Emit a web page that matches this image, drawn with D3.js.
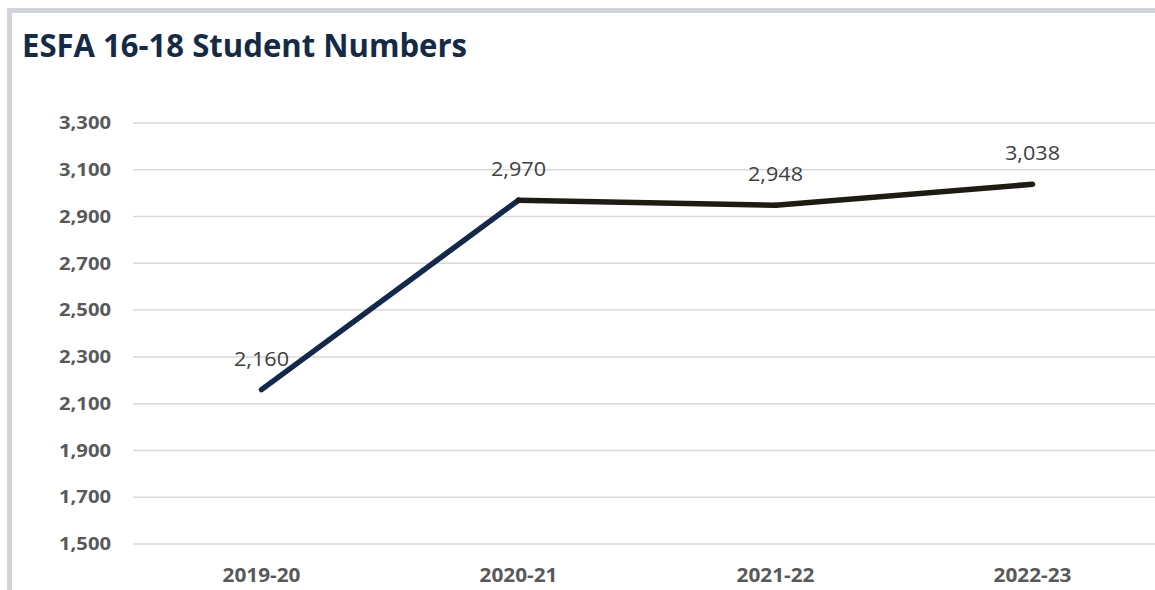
<!DOCTYPE html>
<html><head><meta charset="utf-8">
<script src="https://cdn.jsdelivr.net/npm/d3@7/dist/d3.min.js"></script>
<style>body{margin:0;background:#fff;overflow:hidden}svg{display:block}</style>
</head><body>
<svg id="c" width="1155" height="590"></svg>
<script>
const categories = ["2019-20", "2020-21", "2021-22", "2022-23"];
const values = [2160, 2970, 2948, 3038];
const valueLabels = ["2,160", "2,970", "2,948", "3,038"];
const yTicks = [1500, 1700, 1900, 2100, 2300, 2500, 2700, 2900, 3100, 3300];
const segmentColors = ["#13294b", "#1e1c12", "#1e1c12"];
const title = "ESFA 16-18 Student Numbers";

const svg = d3.select("#c");
// frame
svg.append("rect").attr("x", 7).attr("y", 8).attr("width", 1148).attr("height", 5).attr("fill", "#d1d5d9");
svg.append("rect").attr("x", 7).attr("y", 8).attr("width", 5).attr("height", 582).attr("fill", "#d1d5d9");

svg.append("text").attr("x", 22).attr("y", 57).text(title)
  .attr("font-family", "'Open Sans', sans-serif").attr("font-weight", 700)
  .attr("font-size", 33).attr("fill", "#142a47")
  .attr("textLength", 445).attr("lengthAdjust", "spacingAndGlyphs");

const x = d3.scaleBand().domain(categories).range([133, 1161]);
const y = d3.scaleLinear().domain([1500, 3300]).range([544, 123]);

const g = svg.append("g");
// grid
g.selectAll("line.grid").data(yTicks).join("line")
  .attr("x1", 133).attr("x2", 1161)
  .attr("y1", d => y(d)).attr("y2", d => y(d))
  .attr("stroke", "#d9d9d9").attr("stroke-width", 1.5);

// y axis
const yAxis = svg.append("g").attr("transform", "translate(111,0)")
  .call(d3.axisLeft(y).tickValues(yTicks).tickFormat(d3.format(",")).tickSize(0).tickPadding(0));
yAxis.select(".domain").remove();
yAxis.selectAll("text").attr("font-family", "'Open Sans', sans-serif").attr("font-weight", 700)
  .attr("font-size", 18).attr("fill", "#595959")
  .attr("textLength", 52).attr("lengthAdjust", "spacingAndGlyphs");

// x axis
const xAxis = svg.append("g").attr("transform", "translate(0,544)")
  .call(d3.axisBottom(x).tickSize(0).tickPadding(24));
xAxis.select(".domain").remove();
xAxis.selectAll("text").attr("font-family", "'Open Sans', sans-serif").attr("font-weight", 700)
  .attr("font-size", 20).attr("fill", "#595959")
  .attr("textLength", 78).attr("lengthAdjust", "spacingAndGlyphs");

// line segments
const pts = categories.map((c, i) => [x(c) + x.bandwidth() / 2, y(values[i])]);
for (let i = 0; i < pts.length - 1; i++) {
  svg.append("path").attr("d", d3.line()([pts[i], pts[i + 1]]))
    .attr("fill", "none").attr("stroke", segmentColors[i]).attr("stroke-width", 5.5)
    .attr("stroke-linecap", "round").attr("stroke-linejoin", "round");
}
// labels
svg.selectAll("text.vl").data(categories).join("text").attr("class", "vl")
  .attr("x", (c) => x(c) + x.bandwidth() / 2)
  .attr("y", (c, i) => y(values[i]) - 24)
  .attr("text-anchor", "middle")
  .attr("font-family", "'Open Sans', sans-serif").attr("font-size", 20).attr("fill", "#404040")
  .attr("textLength", 55).attr("lengthAdjust", "spacingAndGlyphs")
  .text((c, i) => valueLabels[i]);
</script>
</body></html>
